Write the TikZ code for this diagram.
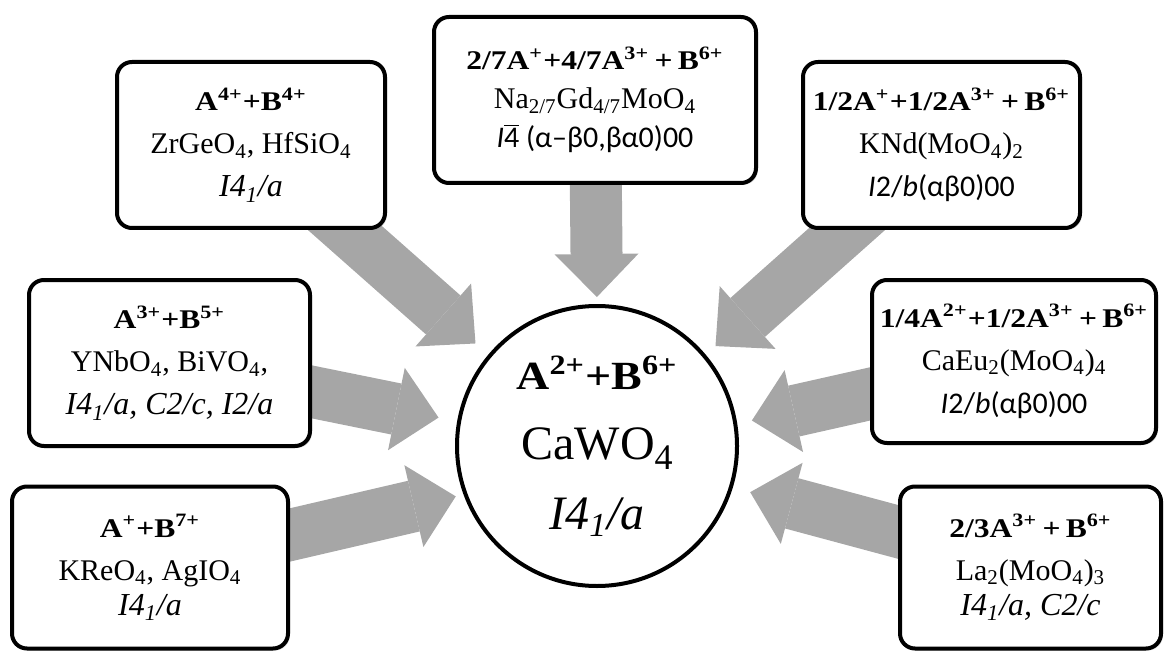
\documentclass[tikz,border=0pt]{standalone}
\usepackage{fontspec}
\usepackage{graphicx}
\setmainfont{Liberation Serif}
\newfontfamily\calfont{Carlito}
\usetikzlibrary{arrows.meta,backgrounds,shadows}

\definecolor{arrowgray}{RGB}{166,166,166}

\newcommand{\spr}[1]{\textsuperscript{#1}}
\newcommand{\sbs}[1]{\textsubscript{#1}}
\newcommand{\ttl}[1]{\scalebox{1.17}[1]{\fontsize{13.5}{21.5}\selectfont\bfseries #1}}
\newcommand{\frm}[1]{{\fontsize{15}{21.5}\selectfont #1}}
\newcommand{\grp}[1]{{\fontsize{16}{21.5}\selectfont\itshape #1}}
\newcommand{\sgc}[1]{{\calfont\fontsize{15}{21.5}\selectfont #1}}

\tikzset{
  cbox/.style={draw, line width=2pt, rounded corners=7.5pt, fill=white,
    minimum height=83pt, inner sep=2pt, align=center,
    font=\fontsize{15}{21.5}\selectfont,
    drop shadow={shadow xshift=1pt, shadow yshift=-1pt, opacity=0.25}},
  flow/.style={arrowgray, line width=26pt,
    -{Triangle[width=42pt, length=21.5pt, line width=0pt]}},
}

\begin{document}
\begin{tikzpicture}[x=0.5pt, y=-0.5pt]
 \useasboundingbox (0,0) rectangle (1166,652);

 \node[circle, draw, line width=2pt, fill=white, minimum size=140pt, inner sep=0pt,
       align=center, font=\fontsize{24}{35}\selectfont] (cw) at (597,446)
   {\scalebox{1.15}[1]{\fontsize{20}{35}\selectfont\bfseries A\spr{2+}+B\spr{6+}}\\
    CaWO\raisebox{-5pt}{\fontsize{18}{20}\selectfont 4}\\ {\itshape I4\sbs{1}/a}};

 \node[cbox, minimum width=134pt] (b1) at (251,145)
   {\ttl{A\spr{4+}+B\spr{4+}}\\ \frm{ZrGeO\sbs{4}, HfSiO\sbs{4}}\\ \grp{I4\sbs{1}/a}};
 \node[cbox, minimum width=161pt] (b2) at (595,100)
   {\ttl{2/7A\spr{+}+4/7A\spr{3+}\,+\,B\spr{6+}}\\[-2pt]
    \frm{Na\sbs{2/7}Gd\sbs{4/7}MoO\sbs{4}}\\[-2pt]
    \sgc{\textit{I}$\overline{\mbox{4}}$ (α–β0,βα0)00}};
 \node[cbox, minimum width=138.5pt] (b3) at (941.5,145)
   {\ttl{1/2A\spr{+}+1/2A\spr{3+}\,+\,B\spr{6+}}\\ \frm{KNd(MoO\sbs{4})\sbs{2}}\\
    \sgc{\textit{I}2/\textit{b}(αβ0)00}};
 \node[cbox, minimum width=140.5pt] (b4) at (169.5,363)
   {\ttl{A\spr{3+}+B\spr{5+}}\\ \frm{YNbO\sbs{4}, BiVO\sbs{4},}\\ \grp{I4\sbs{1}/a, C2/c, I2/a}};
 \node[cbox, minimum width=138pt, minimum height=81pt] (b5) at (150,567.5)
   {\ttl{A\spr{+}+B\spr{7+}}\\ \frm{KReO\sbs{4}, AgIO\sbs{4}}\\[-4pt] \grp{I4\sbs{1}/a}};
 \node[cbox, minimum width=142pt, minimum height=81.5pt] (b6) at (1014,361.5)
   {\ttl{1/4A\spr{2+}+1/2A\spr{3+}\,+\,B\spr{6+}}\\ \frm{CaEu\sbs{2}(MoO\sbs{4})\sbs{4}}\\
    \sgc{\textit{I}2/\textit{b}(αβ0)00}};
 \node[cbox, minimum width=130.5pt, minimum height=81pt] (b7) at (1030.5,567.5)
   {\ttl{2/3A\spr{3+}\,+\,B\spr{6+}}\\ \frm{La\sbs{2}(MoO\sbs{4})\sbs{3}}\\[-4pt]
    \grp{I4\sbs{1}/a, C2/c}};

 %% arrows behind the boxes
 \begin{pgfonlayer}{background}
  \draw[flow, shorten >=8.5pt] (b1.center) -- (cw.140.6);
  \draw[flow, shorten >=3.5pt] (b2.center) -- (cw.90);
  \draw[flow, shorten >=6.5pt] (b3.center) -- (cw.40.6);
  \draw[flow, shorten >=9.5pt] (b4.center) -- (cw.170);
  \draw[flow, shorten >=4pt]   (b5.center) -- (cw.200);
  \draw[flow, shorten >=7.5pt] (b6.center) -- (cw.9.5);
  \draw[flow, shorten >=9pt]   (b7.center) -- (cw.343);
 \end{pgfonlayer}
\end{tikzpicture}
\end{document}
